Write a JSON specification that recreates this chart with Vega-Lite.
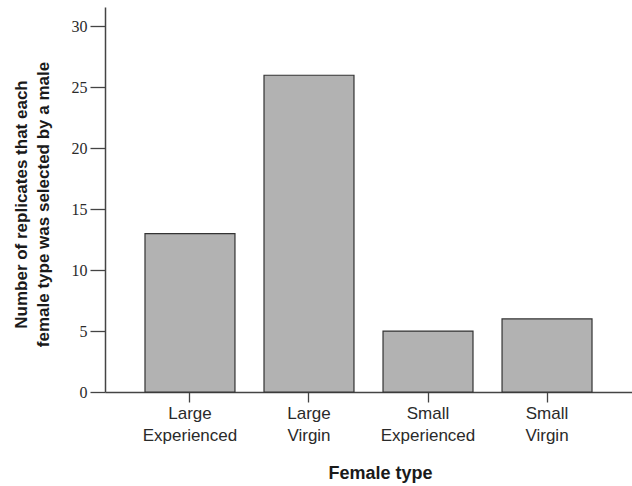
{
  "$schema": "https://vega.github.io/schema/vega-lite/v6.json",
  "autosize": {"type": "none"},
  "padding": {"left": 105, "top": 7, "right": 0, "bottom": 94},
  "width": 527,
  "height": 385,
  "background": "white",
  "data": {"values": [
    {"type": "Large Experienced", "count": 13},
    {"type": "Large Virgin", "count": 26},
    {"type": "Small Experienced", "count": 5},
    {"type": "Small Virgin", "count": 6}
  ]},
  "mark": {"type": "bar", "fill": "#b2b2b2", "stroke": "#333333", "strokeWidth": 1.2},
  "encoding": {
    "x": {
      "field": "type", "type": "nominal", "sort": null,
      "scale": {"paddingInner": 0.244, "paddingOuter": 0.336},
      "axis": {
        "title": "Female type", "titleFont": "Liberation Sans", "titleFontSize": 18, "titleFontWeight": "bold",
        "titleColor": "#1a1a1a", "titlePadding": 21, "titleX": 275, "titleAlign": "center",
        "labelExpr": "split(datum.label, ' ')", "labelAngle": 0,
        "labelFont": "Liberation Sans", "labelFontSize": 17, "labelColor": "#2a2a2a", "labelLineHeight": 22,
        "labelPadding": 3,
        "tickSize": 10, "tickColor": "#444", "tickWidth": 1.3,
        "domainColor": "#444", "domainWidth": 1.5, "grid": false
      }
    },
    "y": {
      "field": "count", "type": "quantitative",
      "scale": {"domain": [0, 31.6], "nice": false},
      "axis": {
        "title": ["Number of replicates that each", "female type was selected by a male"],
        "titleFont": "Liberation Sans", "titleFontSize": 17, "titleFontWeight": "bold", "titleColor": "#1a1a1a",
        "titleLineHeight": 22, "titlePadding": 19, "titleY": 197,
        "values": [0, 5, 10, 15, 20, 25, 30],
        "labelFont": "Liberation Serif", "labelFontSize": 16, "labelColor": "#2a2a2a", "labelPadding": 3,
        "tickSize": 15, "tickColor": "#444", "tickWidth": 1.3,
        "domainColor": "#444", "domainWidth": 1.5, "grid": false
      }
    }
  },
  "config": {"view": {"stroke": null}}
}
